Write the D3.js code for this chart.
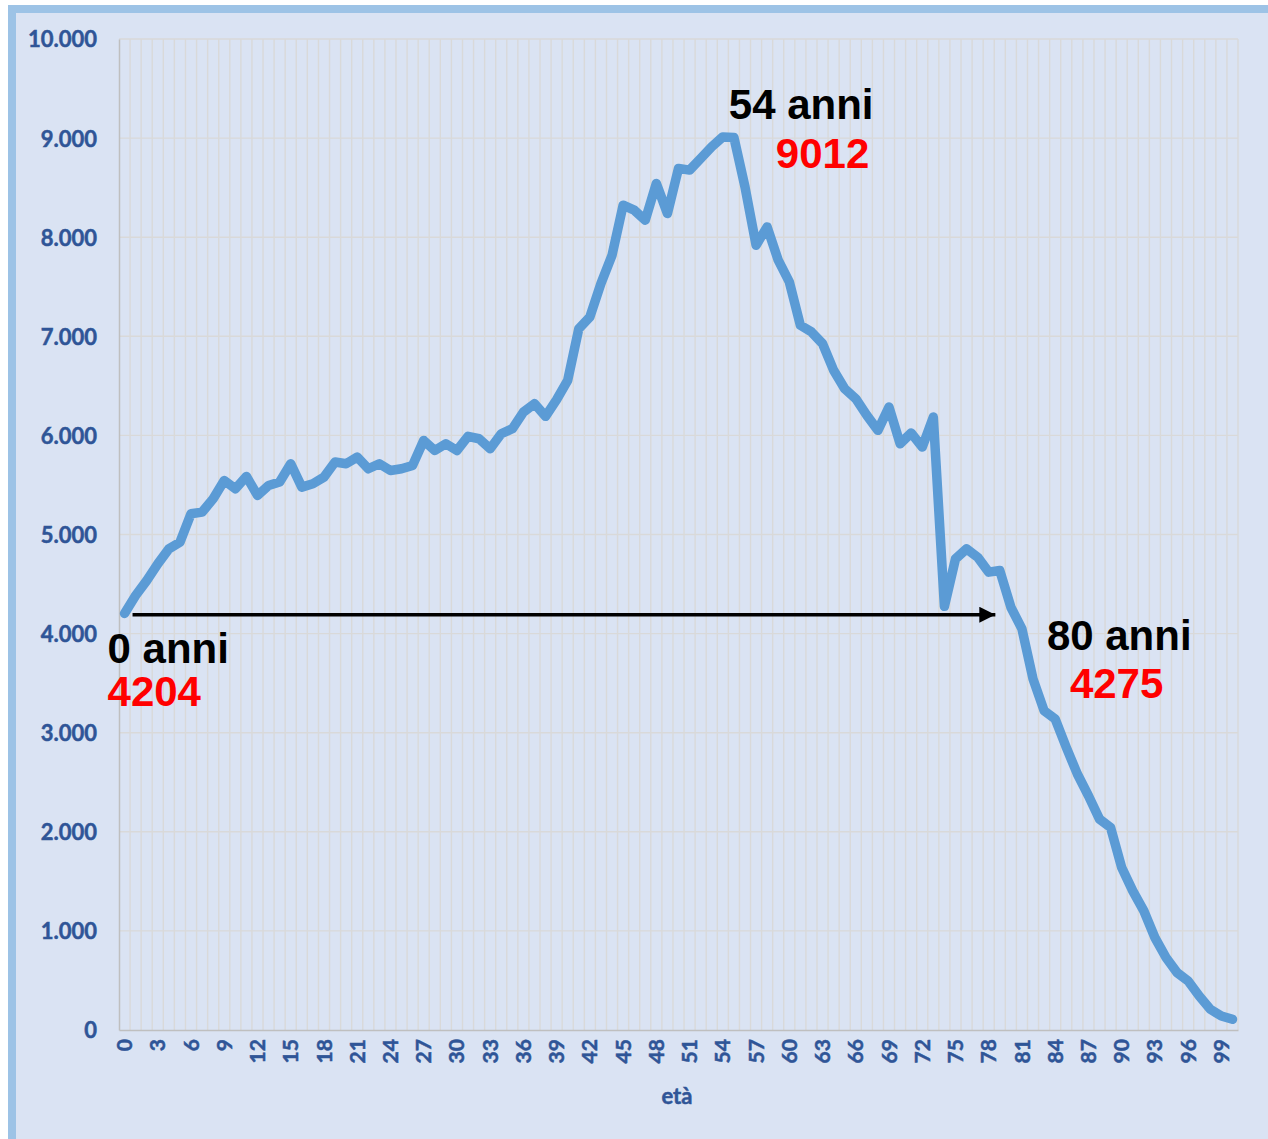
<!DOCTYPE html>
<html>
<head>
<meta charset="utf-8">
<script src="https://cdn.jsdelivr.net/npm/d3@7"></script>
<style>
  body { margin: 0; background: #fff; }
  .tick-lbl { font-family: Lato, "Liberation Sans", sans-serif; font-weight: 700; fill: #2F5597; stroke: #2F5597; stroke-width: 0.5px; }
  .note { font-family: "Liberation Sans", Arial, sans-serif; font-weight: 700; }
</style>
</head>
<body>
<div id="chart"></div>
<script>

// eta 0..100
var ages = d3.range(0, 101);

var people = [
    4204, 4384, 4535, 4704, 4855, 4922, 5209, 5226, 5360, 5545,
    5461, 5586, 5394, 5495, 5529, 5714, 5478, 5512, 5579, 5731,
    5714, 5781, 5663, 5714, 5646, 5663, 5697, 5949, 5848, 5916,
    5848, 5990, 5966, 5865, 6017, 6067, 6235, 6320, 6192, 6360,
    6556, 7077, 7195, 7532, 7818, 8323, 8273, 8172, 8542, 8239,
    8694, 8677, 8795, 8912, 9012, 9007, 8508, 7919, 8104, 7768,
    7550, 7111, 7044, 6926, 6657, 6471, 6370, 6202, 6051, 6286,
    5916, 6024, 5882, 6185, 4275, 4754, 4855, 4771, 4620, 4636,
    4266, 4047, 3542, 3222, 3138, 2852, 2583, 2364, 2128, 2044,
    1640, 1404, 1202, 932, 731, 579, 495, 343, 209, 141,
    108
];

var y_ticks = [0, 1000, 2000, 3000, 4000, 5000, 6000, 7000, 8000, 9000, 10000];
var x_tick_step = 3;
var x_title = "età";

var note_ages = [0, 54, 80];
var note_titles = ["0 anni", "54 anni", "80 anni"];
var note_values = ["4204", "9012", "4275"];

var data = ages.map(function (a, i) { return {age: a, value: people[i]}; });

const W = 1268, H = 1139;
const margin = {top: 39, right: 30, bottom: 109, left: 119},
    width = 1238 - margin.left,
    height = H - margin.top - margin.bottom;

const svg = d3.select("#chart")
    .append("svg")
    .attr("width", W)
    .attr("height", H);

// cornice
svg.append("rect")
    .attr("x", 12).attr("y", 9)
    .attr("width", W + 20).attr("height", H + 20)
    .style("fill", "#DAE3F3")
    .style("stroke", "#9DC3E6")
    .style("stroke-width", 8);

const g = svg.append("g")
    .attr("transform", "translate(" + margin.left + "," + margin.top + ")");

var xScale = d3.scaleBand()
    .domain(ages)
    .range([0, width])
    .paddingInner(0)
    .paddingOuter(0);

var yScale = d3.scaleLinear()
    .domain([0, 10000])
    .range([height, 0]);

var it = d3.formatLocale({decimal: ",", thousands: ".", grouping: [3], currency: ["", "€"]});
var fmt = it.format(",");

// griglia verticale (tra le categorie)
g.append("g")
    .selectAll("line")
    .data(ages.slice(1).concat(["end"]))
    .enter()
    .append("line")
    .attr("x1", function (d) { return d === "end" ? width : xScale(d); })
    .attr("x2", function (d) { return d === "end" ? width : xScale(d); })
    .attr("y1", 0)
    .attr("y2", height)
    .style("stroke", "#D9D9D9")
    .style("stroke-width", 1.4);

// griglia orizzontale
g.append("g")
    .selectAll("line")
    .data(y_ticks.slice(1))
    .enter()
    .append("line")
    .attr("x1", 0)
    .attr("x2", width)
    .attr("y1", function (d) { return yScale(d); })
    .attr("y2", function (d) { return yScale(d); })
    .style("stroke", "#D9D9D9")
    .style("stroke-width", 1.4);

// assi
g.append("g")
    .attr("class", "y-axis")
    .call(d3.axisLeft(yScale).tickValues(y_ticks).tickFormat(fmt).tickSize(0).tickPadding(22))
    .call(function (s) {
        s.select(".domain").style("stroke", "#BFBFBF").style("stroke-width", 1.5);
        s.selectAll("text").attr("class", "tick-lbl").style("font-size", "22px")
            .attr("font-family", null).attr("dy", "0.36em");
    });

g.append("g")
    .attr("class", "x-axis")
    .attr("transform", "translate(0," + height + ")")
    .call(d3.axisBottom(xScale)
        .tickValues(ages.filter(function (d) { return d % x_tick_step === 0; }))
        .tickSize(0))
    .call(function (s) {
        s.select(".domain").style("stroke", "#BFBFBF").style("stroke-width", 1.5);
        s.selectAll("text")
            .attr("class", "tick-lbl")
            .attr("font-family", null)
            .style("font-size", "21px")
            .attr("text-anchor", "end")
            .attr("transform", "rotate(-90)")
            .attr("x", -9)
            .attr("y", 0)
            .attr("dy", "0.36em");
    });

g.append("text")
    .attr("class", "tick-lbl")
    .attr("x", xScale(50) + 4)
    .attr("y", height + 74)
    .attr("text-anchor", "middle")
    .style("font-size", "22px")
    .text(x_title);

// freccia
svg.append("defs").append("marker")
    .attr("id", "head")
    .attr("viewBox", "0 0 10 10")
    .attr("refX", 10).attr("refY", 5)
    .attr("markerUnits", "userSpaceOnUse")
    .attr("markerWidth", 17).attr("markerHeight", 16)
    .attr("orient", "auto")
    .append("path")
    .attr("d", "M0,0L10,5L0,10Z")
    .style("fill", "#000");

g.append("line")
    .attr("x1", xScale(note_ages[0]) + xScale.bandwidth() / 2 + 8)
    .attr("x2", xScale(note_ages[2]) - 10)
    .attr("y1", yScale(4190))
    .attr("y2", yScale(4190))
    .style("stroke", "#000")
    .style("stroke-width", 3.5)
    .attr("marker-end", "url(#head)");

// linea
var line = d3.line()
    .x(function (d) { return xScale(d.age) + xScale.bandwidth() / 2; })
    .y(function (d) { return yScale(d.value); });

g.append("path")
    .datum(data)
    .attr("d", line)
    .style("fill", "none")
    .style("stroke", "#5B9BD5")
    .style("stroke-width", 9.5)
    .style("stroke-linejoin", "round")
    .style("stroke-linecap", "round");

// etichette
var note_pos = [
    {dx: -17, y1: 624, y2: 667},   // 0 anni
    {dx: 6, y1: 80, y2: 129},      // 54 anni
    {dx: 36, y1: 611, y2: 659}     // 80 anni
];
var note_shift = [0, 47, 23];

note_ages.forEach(function (a, i) {
    var x0 = xScale(a) + xScale.bandwidth() / 2 + note_pos[i].dx;
    g.append("text")
        .attr("class", "note")
        .attr("x", x0)
        .attr("y", note_pos[i].y1)
        .style("font-size", "42px")
        .style("fill", "#000")
        .text(note_titles[i]);
    g.append("text")
        .attr("class", "note")
        .attr("x", x0 + note_shift[i])
        .attr("y", note_pos[i].y2)
        .style("font-size", "42px")
        .style("fill", "#FF0000")
        .text(note_values[i]);
});

</script>
</body>
</html>
